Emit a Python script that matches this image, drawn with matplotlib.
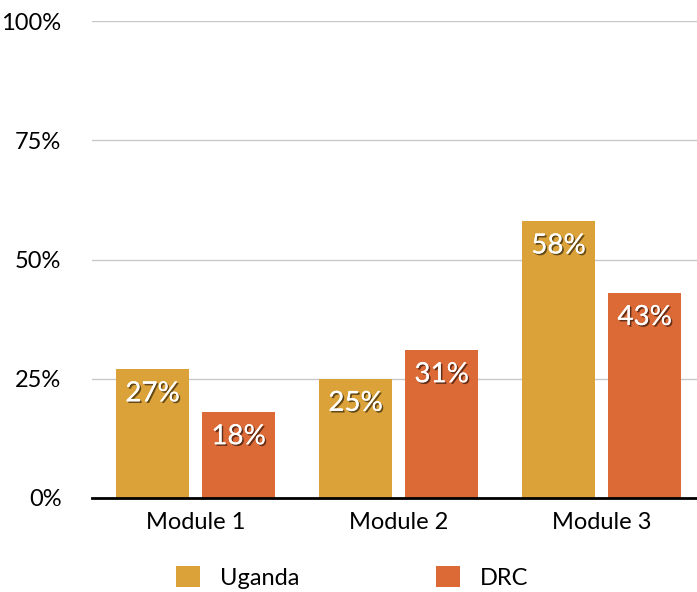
import matplotlib
matplotlib.use("Agg")
import matplotlib.pyplot as plt
import matplotlib.patheffects as pe
import numpy as np

plt.rcParams["font.family"] = ["Lato", "DejaVu Sans"]

modules = ["Module 1", "Module 2", "Module 3"]
uganda = [27, 25, 58]
drc = [18, 31, 43]
series_names = ["Uganda", "DRC"]
colors = ["#DBA239", "#DC6A37"]
yticks = [0, 25, 50, 75, 100]

fig = plt.figure(figsize=(6.97, 5.92), dpi=100)
ax = fig.add_axes([92 / 697, 94 / 592, 605 / 697, 477 / 592])

x = np.arange(len(modules))
width = 0.36
offset = 0.212
shadow = [pe.withSimplePatchShadow(offset=(1.2, -1.2), shadow_rgbFace="black", alpha=0.55),
          pe.Normal()]

for vals, name, color, sign in [(uganda, series_names[0], colors[0], -1),
                                (drc, series_names[1], colors[1], 1)]:
    bars = ax.bar(x + sign * offset, vals, width, color=color, label=name, zorder=2)
    for b, v in zip(bars, vals):
        t = ax.annotate(f"{v}%", (b.get_x() + b.get_width() / 2, v),
                        xytext=(0, -8), textcoords="offset points",
                        ha="center", va="top", color="white", fontsize=20, zorder=3)
        t.set_path_effects(shadow)

ax.set_xlim(-0.51, 2.47)
ax.set_ylim(0, 100)
ax.set_yticks(yticks, labels=[f"{v}%" for v in yticks])
ax.set_xticks(x, labels=modules)
ax.yaxis.grid(True, color="#c8c8c8", linewidth=1, zorder=0)
ax.set_axisbelow(True)
for side in ["top", "right", "left"]:
    ax.spines[side].set_visible(False)
ax.spines["bottom"].set_linewidth(2)
ax.spines["bottom"].set_color("black")
ax.spines["bottom"].set_zorder(4)
ax.tick_params(axis="y", length=0, pad=22, labelsize=17)
ax.tick_params(axis="x", length=0, pad=10, labelsize=17)

fig.legend(loc="lower left", bbox_to_anchor=(176 / 697, 3 / 592), ncol=2, frameon=False,
           fontsize=17, handlelength=1.0, handleheight=1.0, handletextpad=0.85,
           columnspacing=5.8, borderpad=0, borderaxespad=0)

fig.savefig("out.png", dpi=100)
